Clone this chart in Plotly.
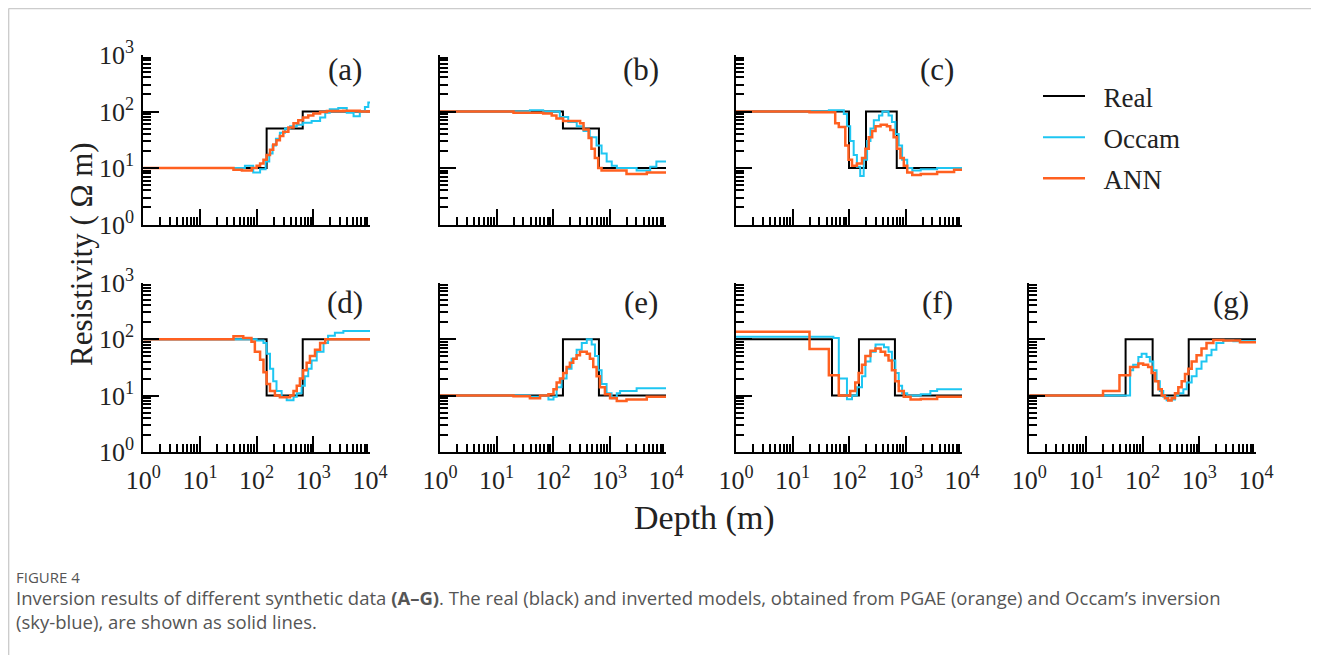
import plotly.graph_objects as go

# The page body adds an 8 px margin, so the figure is sized to fill the rest of the window
OFF = 8
W, H = 1319 - OFF, 655 - OFF


def px(x):
    return (x - OFF) / W


def py(y):
    return 1 - (y - OFF) / H


# ---------------- tick labels ----------------
x_tickvals = [1, 10, 100, 1000, 10000]
x_ticktext = ["10<sup>0</sup>", "10<sup>1</sup>", "10<sup>2</sup>", "10<sup>3</sup>", "10<sup>4</sup>"]
y_tickvals = [1, 10, 100, 1000]
y_ticktext = ["10<sup>0</sup>", "10<sup>1</sup>", "10<sup>2</sup>", "10<sup>3</sup>"]
minor_x = [m * 10 ** k for k in range(4) for m in range(2, 10)]
minor_y = [m * 10 ** k for k in range(3) for m in range(2, 10)]

panel_labels = ["(a)", "(b)", "(c)", "(d)", "(e)", "(f)", "(g)"]
series_names = ["Real", "Occam", "ANN"]

# ---------------- data: layer tops (m) and resistivity (Ohm m) ----------------
# (a)
a_real_top = [1, 150, 650]
a_real_rho = [10, 50, 100]
a_occam_top = [1, 62, 87, 115, 144, 167, 191, 219, 257, 316, 389, 510, 661, 933, 1318, 1622, 1950, 2754, 3890, 5129, 6607, 8128, 9333]
a_occam_rho = [10, 11, 8.3, 9.5, 13, 18, 25, 33, 42, 50, 55, 58, 63, 68, 78, 95, 110, 115, 95, 82, 100, 120, 145]
a_ann_top = [1, 39, 55, 82, 100, 115, 132, 150, 172, 196, 224, 257, 295, 363, 447, 543, 661, 813, 1000, 1318, 1738, 3388, 6600]
a_ann_rho = [10, 9.3, 9.0, 10, 11, 12, 14, 17, 21, 26, 31, 37, 44, 52, 62, 70, 78, 85, 92, 98, 102, 103, 100]

# (b)
b_real_top = [1, 150, 650]
b_real_rho = [100, 50, 10]
b_occam_top = [1, 39, 67, 132, 186, 263, 347, 447, 589, 724, 891, 1096, 1349, 3020, 5250, 6760]
b_occam_rho = [100, 105, 100, 80, 65, 55, 45, 35, 25, 18, 13, 11, 10, 9, 10.5, 13]
b_ann_top = [1, 20, 67, 95, 115, 151, 302, 347, 427, 479, 550, 631, 724, 2000, 4570]
b_ann_rho = [100, 95, 92, 85, 75, 68, 62, 48, 34, 22, 15, 10, 9, 7.8, 8.3]

# (c)
c_real_top = [1, 100, 200, 700]
c_real_rho = [100, 10, 100, 10]
c_occam_top = [1, 44, 81, 92, 105, 121, 138, 158, 182, 209, 240, 275, 339, 389, 501, 575, 661, 759, 871, 1072, 1318, 1862, 3630]
c_occam_rho = [100, 105, 90, 55, 30, 17, 10.5, 7.2, 14, 30, 50, 70, 85, 100, 85, 65, 40, 25, 14, 10, 9, 9.5, 10]
c_ann_top = [1, 20, 57, 66, 86, 98, 113, 138, 170, 195, 224, 257, 295, 363, 468, 537, 617, 708, 813, 933, 1072, 1318, 1862, 3630, 7244]
c_ann_rho = [100, 97, 62, 53, 25, 14, 11, 12, 15, 22, 35, 45, 55, 58, 55, 47, 35, 22, 15, 11, 8.3, 7.5, 7.8, 8.5, 9.3]

# (d)
d_real_top = [1, 150, 650]
d_real_rho = [100, 10, 100]
d_occam_top = [1, 100, 132, 150, 172, 196, 224, 276, 339, 447, 510, 621, 708, 813, 933, 1148, 1514, 1820, 2400, 3388]
d_occam_rho = [100, 95, 85, 55, 30, 18, 12, 9.5, 8.3, 9.5, 11, 15, 22, 30, 42, 60, 85, 115, 130, 140]
d_ann_top = [1, 39, 58, 81, 93, 115, 132, 150, 172, 210, 257, 389, 447, 510, 580, 661, 762, 871, 1071, 1318, 1622]
d_ann_rho = [100, 112, 105, 90, 60, 43, 26, 16, 12, 10, 9.3, 10, 12, 15, 20, 28, 38, 50, 65, 85, 100]

# (e)
e_real_top = [1, 150, 650]
e_real_rho = [10, 100, 10]
e_occam_top = [1, 39, 59, 83, 102, 116, 142, 174, 213, 262, 323, 396, 484, 553, 633, 725, 888, 1088, 1346, 1540, 3020]
e_occam_rho = [10, 9.5, 10, 8.5, 9.5, 14, 20, 30, 45, 65, 85, 100, 80, 50, 28, 16, 11, 9, 11, 12, 13.5]
e_ann_top = [1, 20, 39, 59, 83, 102, 116, 133, 152, 174, 199, 228, 262, 300, 396, 450, 516, 591, 677, 830, 1024, 1346, 2000, 4570]
e_ann_rho = [10, 9.7, 9.0, 10, 10.5, 13, 17, 20, 25, 32, 38, 45, 52, 60, 55, 45, 32, 22, 14, 10.5, 9, 8.0, 8.5, 9.5]

# (f)
f_real_top = [1, 50, 150, 650]
f_real_rho = [100, 10, 100, 10]
f_occam_top = [1, 53, 66, 92, 113, 138, 170, 195, 240, 295, 416, 501, 575, 661, 759, 871, 1072, 1862, 2754, 3630]
f_occam_rho = [110, 105, 20, 8.6, 10, 14, 22, 40, 60, 80, 72, 60, 42, 25, 15, 11, 10, 10.5, 12, 13]
f_ann_top = [1, 20, 44, 66, 105, 129, 148, 170, 195, 240, 295, 363, 437, 501, 575, 661, 759, 933, 1230, 1862, 3630]
f_ann_rho = [135, 67, 23, 10, 12, 17, 25, 35, 50, 62, 68, 60, 52, 42, 28, 18, 12, 9.5, 8.5, 8.7, 9.5]

# (g)
g_real_top = [1, 50, 150, 650]
g_real_rho = [10, 100, 10, 100]
g_occam_top = [1, 60, 68, 84, 96, 117, 134, 154, 176, 201, 231, 265, 324, 372, 426, 523, 600, 733, 894, 1093, 1339, 1640, 2000, 2655, 3981]
g_occam_rho = [10, 28, 35, 48, 55, 48, 40, 28, 18, 12, 9.5, 8.3, 8.5, 10, 11, 13, 17, 22, 30, 40, 52, 65, 85, 95, 92]
g_ann_top = [1, 20, 39, 60, 84, 102, 125, 144, 166, 190, 217, 247, 283, 324, 372, 426, 488, 559, 640, 733, 894, 1093, 1339, 1768, 2655, 5218]
g_ann_rho = [10, 12, 23, 32, 37, 35, 32, 25, 18, 13, 10, 9, 8.2, 9, 11, 14, 18, 24, 30, 40, 52, 68, 85, 97, 95, 88]

panels = [
    [(a_real_top, a_real_rho), (a_occam_top, a_occam_rho), (a_ann_top, a_ann_rho)],
    [(b_real_top, b_real_rho), (b_occam_top, b_occam_rho), (b_ann_top, b_ann_rho)],
    [(c_real_top, c_real_rho), (c_occam_top, c_occam_rho), (c_ann_top, c_ann_rho)],
    [(d_real_top, d_real_rho), (d_occam_top, d_occam_rho), (d_ann_top, d_ann_rho)],
    [(e_real_top, e_real_rho), (e_occam_top, e_occam_rho), (e_ann_top, e_ann_rho)],
    [(f_real_top, f_real_rho), (f_occam_top, f_occam_rho), (f_ann_top, f_ann_rho)],
    [(g_real_top, g_real_rho), (g_occam_top, g_occam_rho), (g_ann_top, g_ann_rho)],
]
max_depth = 10000

# ---------------- styling ----------------
colors = ["#000000", "#1EC6F2", "#FF6020"]
widths = [2.0, 2.0, 2.5]
SERIF = "Liberation Serif, Times New Roman, serif"
NBSP = "\u00a0"

# pixel positions in the window (reference image coordinates)
cols_px = [(143.3, 370.0), (440.0, 666.0), (736.0, 962.0), (1029.3, 1256.0)]
rows_px = [(55.0, 224.5), (282.7, 452.0)]
grid_pos = [(0, 0), (0, 1), (0, 2), (1, 0), (1, 1), (1, 2), (1, 3)]

fig = go.Figure()
annotations = []
for i, (series, (r, c)) in enumerate(zip(panels, grid_pos)):
    n = i + 1
    xa = "x" if n == 1 else f"x{n}"
    ya = "y" if n == 1 else f"y{n}"
    for s, (top, rho) in enumerate(series):
        fig.add_trace(go.Scatter(
            x=list(top) + [max_depth], y=list(rho) + [rho[-1]],
            mode="lines", line=dict(color=colors[s], width=widths[s], shape="hv"),
            name=NBSP * 2 + series_names[s], showlegend=(i == 0),
            legendgroup=series_names[s],
            xaxis=xa, yaxis=ya, hoverinfo="skip"))
    x0, x1 = cols_px[c]
    y0, y1 = rows_px[r]
    xdom = [px(x0), px(x1)]
    ydom = [py(y1), py(y0)]
    common = dict(showline=True, linecolor="black", linewidth=2, mirror=False,
                  showgrid=False, zeroline=False, type="log", automargin=False,
                  ticks="inside", ticklen=16, tickwidth=1.5, tickcolor="black",
                  tickfont=dict(family=SERIF, size=26, color="#222"))
    xkey = "xaxis" if n == 1 else f"xaxis{n}"
    ykey = "yaxis" if n == 1 else f"yaxis{n}"
    fig.update_layout(**{
        xkey: dict(common, domain=xdom, range=[0, 4], anchor=ya,
                   tickmode="array", tickvals=x_tickvals, ticktext=x_ticktext,
                   showticklabels=(r == 1), ticklabelstandoff=4,
                   minor=dict(tickmode="array", tickvals=minor_x, ticks="inside",
                              ticklen=8, tickwidth=1.5, tickcolor="black", showgrid=False)),
        ykey: dict(common, domain=ydom, range=[0, 3], anchor=xa,
                   tickmode="array", tickvals=y_tickvals, ticktext=y_ticktext,
                   showticklabels=(c == 0), ticklabelstandoff=2,
                   minor=dict(tickmode="array", tickvals=minor_y, ticks="inside",
                              ticklen=8, tickwidth=1.5, tickcolor="black", showgrid=False)),
    })
    annotations.append(dict(text=panel_labels[i], xref="paper", yref="paper",
                            x=px(x1 - 25), y=py(y0 + (15 if r == 0 else 20)),
                            xanchor="center", yanchor="middle", showarrow=False,
                            font=dict(family=SERIF, size=31, color="#222")))

annotations.append(dict(text="Resistivity ( Ω m)", xref="paper", yref="paper",
                        x=px(82), y=py(254), textangle=-90, showarrow=False,
                        xanchor="center", yanchor="middle",
                        font=dict(family=SERIF, size=31, color="#222")))
annotations.append(dict(text="Depth (m)", xref="paper", yref="paper",
                        x=px(705), y=py(518), showarrow=False,
                        xanchor="center", yanchor="middle",
                        font=dict(family=SERIF, size=34, color="#222")))

CAP = "Open Sans, Noto Sans, sans-serif"
annotations.append(dict(text="FIGURE 4", xref="paper", yref="paper",
                        x=px(14), y=py(577), showarrow=False,
                        xanchor="left", yanchor="middle",
                        font=dict(family=CAP, size=15, color="#555")))
annotations.append(dict(text="Inversion results of different synthetic data <b>(A–G)</b>. The real (black) and inverted models, obtained from PGAE (orange) and Occam’s inversion",
                        xref="paper", yref="paper", x=px(14), y=py(597), showarrow=False,
                        xanchor="left", yanchor="middle",
                        font=dict(family=CAP, size=18.5, color="#555")))
annotations.append(dict(text="(sky-blue), are shown as solid lines.",
                        xref="paper", yref="paper", x=px(14), y=py(621), showarrow=False,
                        xanchor="left", yanchor="middle",
                        font=dict(family=CAP, size=18.5, color="#555")))

shapes = [
    dict(type="line", xref="paper", yref="paper", x0=0.6 / W, x1=1, y0=1 - 0.6 / H, y1=1 - 0.6 / H,
         line=dict(color="#cccccc", width=1.5)),
    dict(type="line", xref="paper", yref="paper", x0=0.6 / W, x1=0.6 / W, y0=1 - 0.6 / H, y1=0,
         line=dict(color="#cccccc", width=1.5)),
]

fig.update_layout(
    width=W, height=H, margin=dict(l=0, r=0, t=0, b=0, autoexpand=False),
    paper_bgcolor="white", plot_bgcolor="white",
    annotations=annotations, shapes=shapes,
    legend=dict(x=px(1038), y=py(72), xanchor="left", yanchor="top",
                font=dict(family=SERIF, size=27, color="#222"),
                bgcolor="rgba(0,0,0,0)", tracegroupgap=3, itemwidth=42),
)

fig.write_html("out.html")
